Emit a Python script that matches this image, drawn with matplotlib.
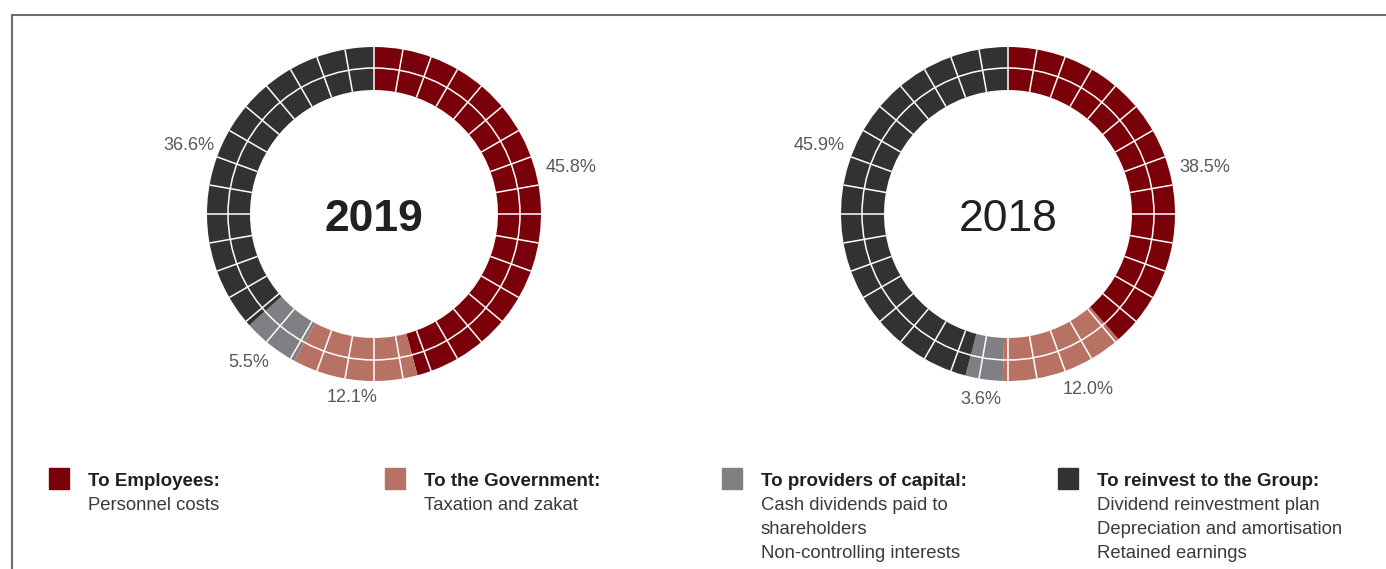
import numpy as np
import matplotlib
matplotlib.use('Agg')
import matplotlib.pyplot as plt
from matplotlib.patches import Circle, Rectangle
from matplotlib.lines import Line2D

plt.rcParams['font.family'] = ['Liberation Sans', 'DejaVu Sans']

# datos
years = ['2019', '2018']
shares_2019 = [45.8, 12.1, 5.5, 36.6]
shares_2018 = [38.5, 12.0, 3.6, 45.9]
pct_labels_2019 = ['45.8%', '12.1%', '5.5%', '36.6%']
pct_labels_2018 = ['38.5%', '12.0%', '3.6%', '45.9%']
colors = ['#7a0009', '#b87264', '#808084', '#333132']
legend_titles = ['To Employees:', 'To the Government:', 'To providers of capital:',
                 'To reinvest to the Group:']
legend_lines = [['Personnel costs'],
                ['Taxation and zakat'],
                ['Cash dividends paid to', 'shareholders', 'Non-controlling interests'],
                ['Dividend reinvestment plan', 'Depreciation and amortisation', 'Retained earnings']]

# posiciones de las etiquetas (x, y en radios, colocadas a mano como en el original)
label_pos_2019 = [(1.18, 0.28), (-0.13, -1.10), (-0.75, -0.89), (-1.11, 0.41)]
label_pos_2018 = [(1.18, 0.28), (0.48, -1.05), (-0.16, -1.11), (-1.13, 0.41)]

W, H = 1386, 569
fig = plt.figure(figsize=(W / 100, H / 100), dpi=100)
fig.patch.set_facecolor('white')

def fx(x):
    return x / W

def fy(y):
    return 1 - y / H

# marco gris
fig.add_artist(Line2D([fx(12), 1], [fy(15), fy(15)], color='#6d6e71', lw=1.5))
fig.add_artist(Line2D([fx(12), fx(12)], [fy(15), 0], color='#6d6e71', lw=1.5))

R = 167
r_in = 124 / R
r_mid = 146 / R
lim = 1.3

def donut(cx, cy, shares, labels, lpos, year, bold):
    half = lim * R
    ax = fig.add_axes([fx(cx - half), fy(cy + half), 2 * half / W, 2 * half / H])
    ax.pie(shares, colors=colors, startangle=90, counterclock=False, radius=1,
           wedgeprops=dict(width=1 - r_in, linewidth=0))
    # rejilla blanca
    for a in np.arange(0, 360, 10):
        t = np.deg2rad(a)
        ax.plot([r_in * np.sin(t), np.sin(t)], [r_in * np.cos(t), np.cos(t)],
                color='white', lw=1.1, solid_capstyle='butt')
    ax.add_patch(Circle((0, 0), r_mid, fill=False, ec='white', lw=1.1))
    for lab, (x, y) in zip(labels, lpos):
        ax.text(x, y, lab, ha='center', va='center', fontsize=13, color='#58595b')
    ax.text(0, -0.03, year, ha='center', va='center', fontsize=32, color='#231f20',
            fontweight='bold' if bold else 'light')
    ax.set_xlim(-lim, lim)
    ax.set_ylim(-lim, lim)
    ax.set_aspect('equal')
    ax.axis('off')

donut(374, 214, shares_2019, pct_labels_2019, label_pos_2019, years[0], True)
donut(1008, 214, shares_2018, pct_labels_2018, label_pos_2018, years[1], False)

# leyenda
col_x = [49, 385, 722, 1058]
for i in range(4):
    x0 = col_x[i]
    fig.add_artist(Rectangle((fx(x0), fy(489)), 20 / W, 21 / H, color=colors[i],
                             transform=fig.transFigure))
    fig.text(fx(x0 + 39), fy(482), legend_titles[i], ha='left', va='center',
             fontsize=13.5, fontweight='bold', color='#231f20')
    for j, line in enumerate(legend_lines[i]):
        fig.text(fx(x0 + 39), fy(506 + 24 * j), line, ha='left', va='center',
                 fontsize=13.3, color='#3a3a3c')

fig.savefig('out.png', dpi=100, facecolor='white')
